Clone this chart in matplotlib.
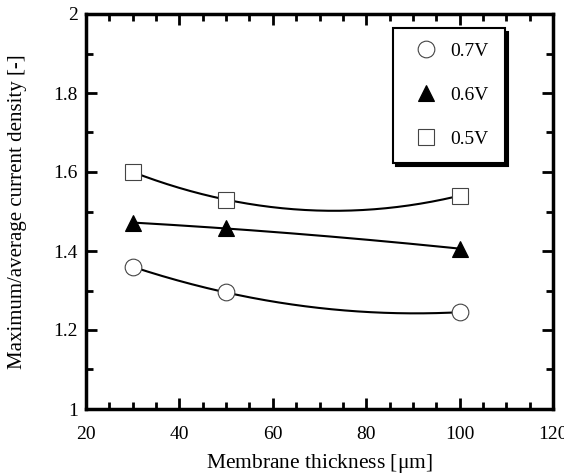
import numpy as np
import matplotlib
matplotlib.use("Agg")
import matplotlib.pyplot as plt
from matplotlib.ticker import MultipleLocator

plt.rcParams['font.family'] = ['Liberation Serif', 'DejaVu Serif']
plt.rcParams['mathtext.fontset'] = 'stix'

thickness = [30, 50, 100]
v07 = [1.36, 1.295, 1.245]
v06 = [1.472, 1.457, 1.406]
v05 = [1.60, 1.53, 1.54]
labels = ['0.7V', '0.6V', '0.5V']
xticks = [20, 40, 60, 80, 100, 120]
yticks = [1, 1.2, 1.4, 1.6, 1.8, 2]
ytick_labels = ['1', '1.2', '1.4', '1.6', '1.8', '2']

fig = plt.figure(figsize=(5.64, 4.75), dpi=100)
L, R, T, B = 86, 553, 14, 409
ax = fig.add_axes([L/564, 1-B/475, (R-L)/564, (B-T)/475])

xs = np.linspace(30, 100, 200)
series = [(v07, 'o', 'white', 12), (v06, '^', 'black', 11.5), (v05, 's', 'white', 11)]
handles = []
for (vals, mk, fc, ms), lab in zip(series, labels):
    coef = np.polyfit(thickness, vals, 2)
    ax.plot(xs, np.polyval(coef, xs), color='black', lw=1.5, zorder=2)
    h, = ax.plot(thickness, vals, linestyle='none', marker=mk, markersize=ms,
                 markerfacecolor=fc, markeredgecolor='black' if fc == 'black' else '#444444',
                 markeredgewidth=0.8, zorder=3, label=lab)
    handles.append(h)

ax.set_xlim(20, 120)
ax.set_ylim(1, 2)
ax.xaxis.set_minor_locator(MultipleLocator(5))
ax.yaxis.set_minor_locator(MultipleLocator(0.1))
ax.set_yticks(yticks)
ax.set_yticklabels(ytick_labels)
ax.set_xticks(xticks)
ax.set_xticklabels([str(v) for v in xticks])
ax.tick_params(which='both', direction='in', top=True, right=True, width=2, labelsize=14)
ax.tick_params(which='major', length=8)
ax.tick_params(which='minor', length=5)
ax.tick_params(axis='x', which='major', pad=12)
ax.tick_params(axis='y', which='major', pad=6)
for s in ax.spines.values():
    s.set_linewidth(2.5)

ax.set_xlabel('Membrane thickness [$\\mathregular{\\mu}$m]', fontsize=15.5, labelpad=6.5)
ax.set_ylabel('Maximum/average current density [-]', fontsize=15, labelpad=19)

W, H = R - L, B - T
leg = ax.legend(handles=handles, loc='upper left',
                bbox_to_anchor=((393-L)/W, 1-(32-T)/H, (505-393)/W, 0.01), mode='expand',
                frameon=True, fancybox=False,
                shadow={'color': 'black', 'alpha': 1, 'ox': 2.5, 'oy': -2.5},
                fontsize=14, labelspacing=1.35, borderpad=0.75, handletextpad=0.3,
                borderaxespad=0, handlelength=1.9)
fr = leg.get_frame()
fr.set_edgecolor('black')
fr.set_linewidth(1.5)
fr.set_alpha(1)

fig.savefig('out.png', dpi=100)
